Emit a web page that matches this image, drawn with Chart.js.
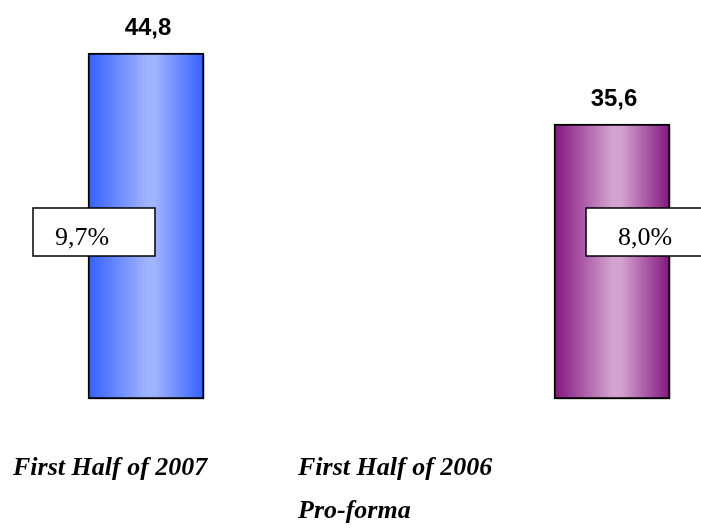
<!DOCTYPE html>
<html>
<head>
<meta charset="utf-8">
<script src="https://cdn.jsdelivr.net/npm/chart.js@4/dist/chart.umd.min.js"></script>
<style>
    html, body { margin: 0; padding: 0; background: #fff; }
    #wrap { width: 701px; height: 529px; }
</style>
</head>
<body>
<div id="wrap"><canvas id="chartCanvas" width="701" height="529"></canvas></div>
<script>
const periods = ['First Half of 2007', ['First Half of 2006', 'Pro-forma']];
const revenue = [44.8, 35.6];
const margin = [9.7, 8.0];

// colours for each bar: edge, middle
const barShades = [['#3460ff', '#9fb3ff'], ['#83157e', '#d4a2cf']];
// percent box placement relative to the bar centre
const boxSpots = [{ dx: -113, w: 122, tx: -91 }, { dx: -26, w: 118, tx: 6 }];
// category label anchors (left aligned)
const labelSpots = [{ x: 13, y: 475 }, { x: 298, y: 475 }];

const fmt = v => v.toFixed(1).replace('.', ',');

function barFill(c) {
    const chart = c.chart;
    if (!chart.chartArea || !chart.scales.x) return barShades[c.dataIndex][0];
    const cx = chart.scales.x.getPixelForTick(c.dataIndex);
    const g = chart.ctx.createLinearGradient(cx - 58, 0, cx + 58, 0);
    const s = barShades[c.dataIndex];
    g.addColorStop(0, s[0]);
    g.addColorStop(0.5, s[1]);
    g.addColorStop(0.58, s[1]);
    g.addColorStop(1, s[0]);
    return g;
}

const extras = {
    id: 'extras',
    beforeDatasetDraw(chart) {
        const ctx = chart.ctx;
        ctx.save();
        ctx.shadowColor = 'rgba(0,0,0,0.35)';
        ctx.shadowOffsetX = 2;
        ctx.shadowOffsetY = 2;
        ctx.shadowBlur = 0;
    },
    afterDatasetDraw(chart) {
        chart.ctx.restore();
    },
    afterDatasetsDraw(chart) {
        const ctx = chart.ctx;
        const bars = chart.getDatasetMeta(0).data;
        ctx.save();
        bars.forEach((bar, i) => {
            // value on top
            ctx.fillStyle = '#000';
            ctx.font = 'bold 24px "Liberation Sans", Arial, sans-serif';
            ctx.textAlign = 'center';
            ctx.textBaseline = 'alphabetic';
            ctx.fillText(fmt(revenue[i]), bar.x + 2, bar.y - 18);

            // margin box
            const b = boxSpots[i];
            ctx.fillStyle = '#fff';
            ctx.strokeStyle = '#000';
            ctx.lineWidth = 1.5;
            ctx.fillRect(bar.x + b.dx, 208, b.w, 48);
            ctx.strokeRect(bar.x + b.dx, 208, b.w, 48);
            ctx.fillStyle = '#000';
            ctx.font = '26px "Liberation Serif", "Times New Roman", serif';
            ctx.textAlign = 'left';
            ctx.fillText(fmt(margin[i]) + '%', bar.x + b.tx, 245);
        });

        // category labels
        ctx.font = 'italic bold 26px "Liberation Serif", "Times New Roman", serif';
        ctx.textAlign = 'left';
        ctx.fillStyle = '#000';
        periods.forEach((p, i) => {
            const lines = Array.isArray(p) ? p : [p];
            lines.forEach((t, k) => ctx.fillText(t, labelSpots[i].x, labelSpots[i].y + k * 43));
        });
        ctx.restore();
    }
};

const ctx = document.getElementById('chartCanvas').getContext('2d');
window.myChart = new Chart(ctx, {
    type: 'bar',
    data: {
        labels: periods,
        datasets: [{
            data: revenue,
            backgroundColor: barFill,
            borderColor: '#000',
            borderWidth: 2,
            borderSkipped: false,
            barThickness: 116,
            clip: false
        }]
    },
    options: {
        responsive: false,
        animation: false,
        layout: { padding: { left: 146, right: 89, top: 12.8, bottom: 130 } },
        plugins: { legend: { display: false }, tooltip: { enabled: false } },
        scales: {
            x: { display: false, offset: false },
            y: { display: false, min: 0, max: 50 }
        }
    },
    plugins: [extras]
});
</script>
</body>
</html>
